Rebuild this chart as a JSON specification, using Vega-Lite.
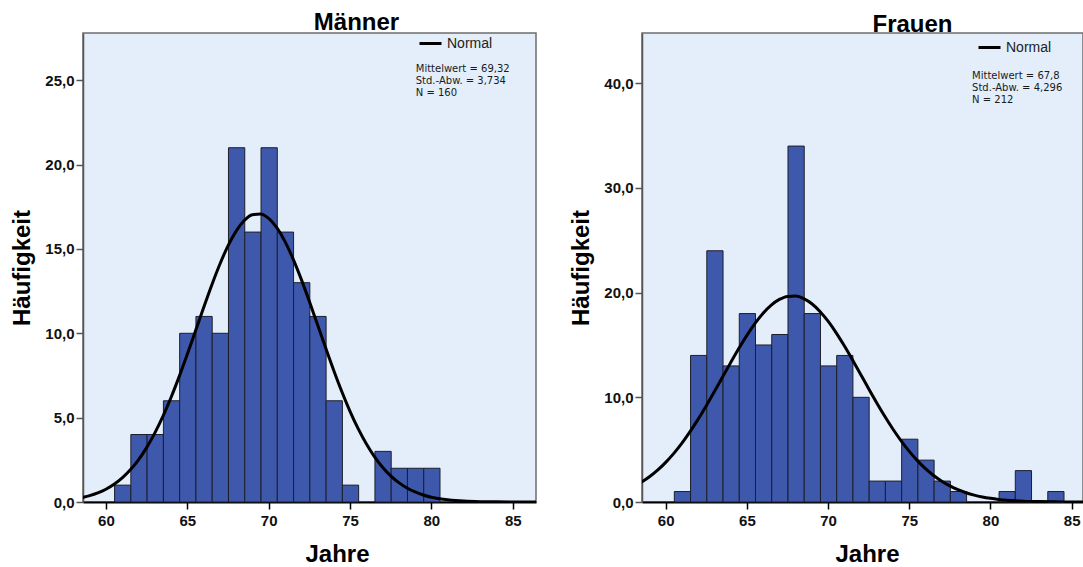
{
  "$schema": "https://vega.github.io/schema/vega-lite/v6.json",
  "background": "#ffffff",
  "padding": {"left": 10, "top": 10, "right": 0, "bottom": 0},
  "spacing": 32,
  "datasets": {
    "menBars": [
      {"age": 61, "count": 1}, {"age": 62, "count": 4}, {"age": 63, "count": 4},
      {"age": 64, "count": 6}, {"age": 65, "count": 10}, {"age": 66, "count": 11},
      {"age": 67, "count": 10}, {"age": 68, "count": 21}, {"age": 69, "count": 16},
      {"age": 70, "count": 21}, {"age": 71, "count": 16}, {"age": 72, "count": 13},
      {"age": 73, "count": 11}, {"age": 74, "count": 6}, {"age": 75, "count": 1},
      {"age": 77, "count": 3}, {"age": 78, "count": 2}, {"age": 79, "count": 2},
      {"age": 80, "count": 2}
    ],
    "womenBars": [
      {"age": 61, "count": 1}, {"age": 62, "count": 14}, {"age": 63, "count": 24},
      {"age": 64, "count": 13}, {"age": 65, "count": 18}, {"age": 66, "count": 15},
      {"age": 67, "count": 16}, {"age": 68, "count": 34}, {"age": 69, "count": 18},
      {"age": 70, "count": 13}, {"age": 71, "count": 14}, {"age": 72, "count": 10},
      {"age": 73, "count": 2}, {"age": 74, "count": 2}, {"age": 75, "count": 6},
      {"age": 76, "count": 4}, {"age": 77, "count": 2}, {"age": 78, "count": 1},
      {"age": 81, "count": 1}, {"age": 82, "count": 3}, {"age": 84, "count": 1}
    ],
    "menNormal": [
      {"x": 58.5, "y": 0.2567}, {"x": 59, "y": 0.3751}, {"x": 59.5, "y": 0.5383},
      {"x": 60, "y": 0.7585}, {"x": 60.5, "y": 1.0503}, {"x": 61, "y": 1.4284},
      {"x": 61.5, "y": 1.9075}, {"x": 62, "y": 2.5026}, {"x": 62.5, "y": 3.2241},
      {"x": 63, "y": 4.0812}, {"x": 63.5, "y": 5.0737}, {"x": 64, "y": 6.1954},
      {"x": 64.5, "y": 7.4304}, {"x": 65, "y": 8.754}, {"x": 65.5, "y": 10.1296},
      {"x": 66, "y": 11.5132}, {"x": 66.5, "y": 12.8528}, {"x": 67, "y": 14.0936},
      {"x": 67.5, "y": 15.1793}, {"x": 68, "y": 16.0583}, {"x": 68.5, "y": 16.6868},
      {"x": 69, "y": 17.0313}, {"x": 69.5, "y": 17.0742}, {"x": 70, "y": 16.813},
      {"x": 70.5, "y": 16.2615}, {"x": 71, "y": 15.4485}, {"x": 71.5, "y": 14.4155},
      {"x": 72, "y": 13.2124}, {"x": 72.5, "y": 11.8947}, {"x": 73, "y": 10.5183},
      {"x": 73.5, "y": 9.1361}, {"x": 74, "y": 7.7938}, {"x": 74.5, "y": 6.5315},
      {"x": 75, "y": 5.3756}, {"x": 75.5, "y": 4.3453}, {"x": 76, "y": 3.4503},
      {"x": 76.5, "y": 2.6911}, {"x": 77, "y": 2.0617}, {"x": 77.5, "y": 1.5515},
      {"x": 78, "y": 1.1467}, {"x": 78.5, "y": 0.8323}, {"x": 79, "y": 0.5937},
      {"x": 79.5, "y": 0.4157}, {"x": 80, "y": 0.286}, {"x": 80.5, "y": 0.1933},
      {"x": 81, "y": 0.1283}, {"x": 81.5, "y": 0.0836}, {"x": 82, "y": 0.0536},
      {"x": 83, "y": 0.0208}, {"x": 84, "y": 0.0075}, {"x": 85, "y": 0.0025},
      {"x": 86, "y": 0.0007}, {"x": 86.5, "y": 0.0003}
    ],
    "womenNormal": [
      {"x": 58.5, "y": 1.8906}, {"x": 59, "y": 2.4157}, {"x": 59.5, "y": 3.0455},
      {"x": 60, "y": 3.7882}, {"x": 60.5, "y": 4.6472}, {"x": 61, "y": 5.6253},
      {"x": 61.5, "y": 6.718}, {"x": 62, "y": 7.914}, {"x": 62.5, "y": 9.1984},
      {"x": 63, "y": 10.5465}, {"x": 63.5, "y": 11.9306}, {"x": 64, "y": 13.3142},
      {"x": 64.5, "y": 14.6583}, {"x": 65, "y": 15.9207}, {"x": 65.5, "y": 17.0596},
      {"x": 66, "y": 18.0336}, {"x": 66.5, "y": 18.8068}, {"x": 67, "y": 19.3496},
      {"x": 67.5, "y": 19.64}, {"x": 68, "y": 19.6667}, {"x": 68.5, "y": 19.4283},
      {"x": 69, "y": 18.9348}, {"x": 69.5, "y": 18.2053}, {"x": 70, "y": 17.269},
      {"x": 70.5, "y": 16.1596}, {"x": 71, "y": 14.9182}, {"x": 71.5, "y": 13.5865},
      {"x": 72, "y": 12.2083}, {"x": 72.5, "y": 10.8215}, {"x": 73, "y": 9.464},
      {"x": 73.5, "y": 8.1644}, {"x": 74, "y": 6.9493}, {"x": 74.5, "y": 5.835},
      {"x": 75, "y": 4.8334}, {"x": 75.5, "y": 3.95}, {"x": 76, "y": 3.1844},
      {"x": 76.5, "y": 2.5331}, {"x": 77, "y": 1.9875}, {"x": 77.5, "y": 1.5388},
      {"x": 78, "y": 1.1754}, {"x": 78.5, "y": 0.8854}, {"x": 79, "y": 0.658},
      {"x": 79.5, "y": 0.4825}, {"x": 80, "y": 0.3491}, {"x": 80.5, "y": 0.2491},
      {"x": 81, "y": 0.1754}, {"x": 81.5, "y": 0.1219}, {"x": 82, "y": 0.0835},
      {"x": 83, "y": 0.0377}, {"x": 84, "y": 0.0161}, {"x": 85, "y": 0.0065},
      {"x": 86, "y": 0.0026}
    ],
    "menStats": [{"x": 79.04, "y": 25.95, "text": "Mittelwert = 69,32\nStd.-Abw. = 3,734\nN = 160"}],
    "womenStats": [{"x": 78.87, "y": 41.15, "text": "Mittelwert = 67,8\nStd.-Abw. = 4,296\nN = 212"}]
  },
  "hconcat": [
    {
      "title": {"text": "Männer", "dx": 47},
      "width": 453,
      "height": 469,
      "view": {"fill": "#E3EEFA", "stroke": "#6E6E6E", "strokeWidth": 1.5},
      "layer": [
        {
          "data": {"name": "menBars"},
          "mark": {"type": "bar", "fill": "#3E58AC", "stroke": "#1E1E2A", "strokeWidth": 1, "binSpacing": 0},
          "encoding": {
            "x": {
              "field": "age", "type": "quantitative",
              "bin": {"step": 1, "extent": [60.5, 85.5], "nice": false},
              "scale": {"domain": [58.59, 86.43], "nice": false, "zero": false},
              "axis": {"values": [60, 65, 70, 75, 80, 85], "title": "Jahre", "titleX": 254}
            },
            "y": {
              "field": "count", "type": "quantitative",
              "scale": {"domain": [0, 27.8], "nice": false},
              "axis": {"values": [0, 5, 10, 15, 20, 25], "title": "Häufigkeit"}
            }
          }
        },
        {
          "data": {"name": "menNormal"},
          "mark": {"type": "line", "strokeWidth": 3, "interpolate": "monotone", "clip": true},
          "encoding": {
            "x": {"field": "x", "type": "quantitative"},
            "y": {"field": "y", "type": "quantitative"},
            "color": {
              "datum": "Normal", "type": "nominal",
              "scale": {"range": ["#000000"]},
              "legend": {"orient": "none", "legendX": 335, "legendY": -2}
            }
          }
        },
        {
          "data": {"name": "menStats"},
          "mark": {"type": "text", "align": "left", "baseline": "top", "fontSize": 10, "lineHeight": 11.8, "lineBreak": "\n", "font": "DejaVu Sans", "color": "#1a1a1a"},
          "encoding": {
            "x": {"field": "x", "type": "quantitative"},
            "y": {"field": "y", "type": "quantitative"},
            "text": {"field": "text"}
          }
        }
      ]
    },
    {
      "title": {"text": "Frauen", "dx": 50},
      "width": 441,
      "height": 469,
      "view": {"fill": "#E3EEFA", "stroke": "#6E6E6E", "strokeWidth": 1.5},
      "layer": [
        {
          "data": {"name": "womenBars"},
          "mark": {"type": "bar", "fill": "#3E58AC", "stroke": "#1E1E2A", "strokeWidth": 1, "binSpacing": 0},
          "encoding": {
            "x": {
              "field": "age", "type": "quantitative",
              "bin": {"step": 1, "extent": [60.5, 85.5], "nice": false},
              "scale": {"domain": [58.54, 85.7], "nice": false, "zero": false},
              "axis": {"values": [60, 65, 70, 75, 80, 85], "title": "Jahre", "titleX": 225}
            },
            "y": {
              "field": "count", "type": "quantitative",
              "scale": {"domain": [0, 44.8], "nice": false},
              "axis": {"values": [0, 10, 20, 30, 40], "title": "Häufigkeit"}
            }
          }
        },
        {
          "data": {"name": "womenNormal"},
          "mark": {"type": "line", "strokeWidth": 3, "interpolate": "monotone", "clip": true},
          "encoding": {
            "x": {"field": "x", "type": "quantitative"},
            "y": {"field": "y", "type": "quantitative"},
            "color": {
              "datum": "Normal", "type": "nominal",
              "scale": {"range": ["#000000"]},
              "legend": {"orient": "none", "legendX": 335, "legendY": 2}
            }
          }
        },
        {
          "data": {"name": "womenStats"},
          "mark": {"type": "text", "align": "left", "baseline": "top", "fontSize": 10, "lineHeight": 11.8, "lineBreak": "\n", "font": "DejaVu Sans", "color": "#1a1a1a"},
          "encoding": {
            "x": {"field": "x", "type": "quantitative"},
            "y": {"field": "y", "type": "quantitative"},
            "text": {"field": "text"}
          }
        }
      ]
    }
  ],
  "resolve": {
    "scale": {"x": "independent", "y": "independent", "color": "independent"},
    "axis": {"x": "independent", "y": "independent"},
    "legend": {"color": "independent"}
  },
  "config": {
    "font": "Liberation Sans",
    "title": {"font": "Liberation Sans", "fontSize": 24, "fontWeight": "bold", "color": "#000000", "anchor": "middle", "offset": -4, "baseline": "bottom"},
    "axisX": {
      "grid": false, "domainColor": "#000000", "domainWidth": 2, "tickColor": "#000000", "tickWidth": 1.5, "tickSize": 7,
      "labelFont": "Liberation Sans", "labelFontWeight": "bold", "labelFontSize": 15, "labelColor": "#111111", "labelPadding": 4,
      "titleFont": "Liberation Sans", "titleFontSize": 24, "titleFontWeight": "bold", "titleColor": "#000000", "titlePadding": 14,
      "titleAnchor": null, "titleAlign": "center"
    },
    "axisY": {
      "grid": false, "domainColor": "#555555", "domainWidth": 1.5, "tickColor": "#555555", "tickWidth": 1.5, "tickSize": 7,
      "labelFont": "Liberation Sans", "labelFontWeight": "bold", "labelFontSize": 15, "labelColor": "#111111", "labelPadding": 2,
      "labelExpr": "replace(format(datum.value, '.1f'), '.', ',')",
      "titleFont": "Liberation Sans", "titleFontSize": 24, "titleFontWeight": "bold", "titleColor": "#000000", "titlePadding": 10
    },
    "legend": {
      "title": null, "symbolType": "stroke", "symbolStrokeWidth": 3, "symbolSize": 484, "padding": 0,
      "labelFont": "Liberation Sans", "labelFontSize": 14, "labelColor": "#222222", "labelOffset": 4
    }
  }
}
